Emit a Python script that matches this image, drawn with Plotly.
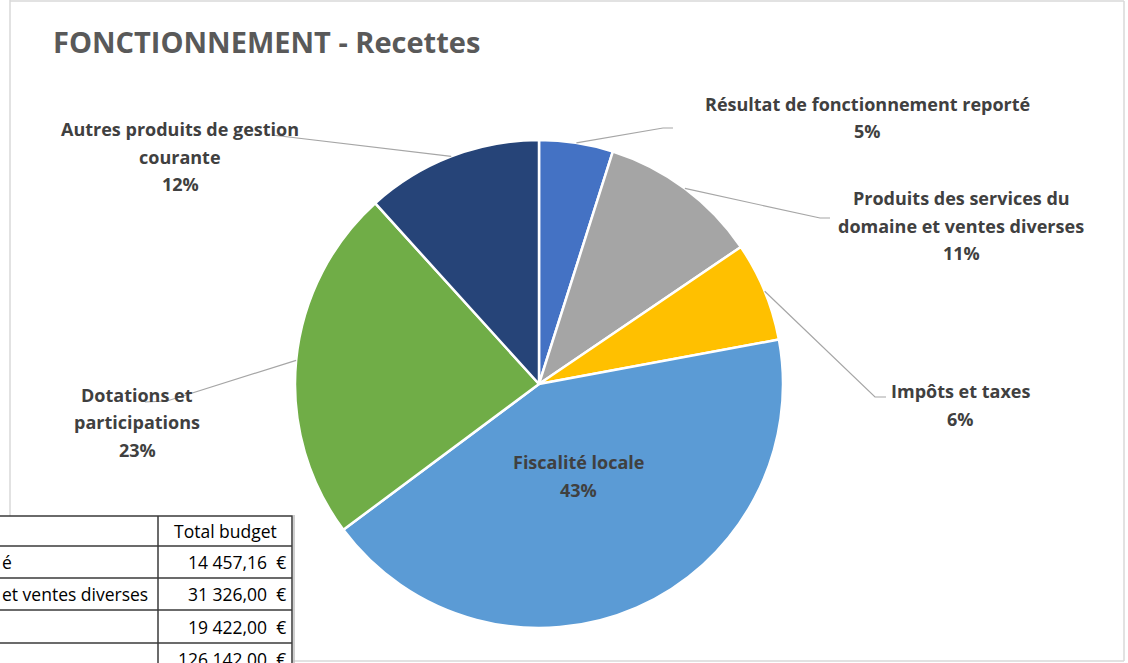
import math
import plotly.graph_objects as go

# ---- data ----
categories = [
    "Résultat de fonctionnement reporté",
    "Produits des services du domaine et ventes diverses",
    "Impôts et taxes",
    "Fiscalité locale",
    "Dotations et participations",
    "Autres produits de gestion courante",
]
values = [14457.16, 31326.00, 19422.00, 126142.00, 69300.00, 34600.00]
percent_labels = ["5%", "11%", "6%", "43%", "23%", "12%"]
label_lines = [
    ["Résultat de fonctionnement reporté"],
    ["Produits des services du", "domaine et ventes diverses"],
    ["Impôts et taxes"],
    ["Fiscalité locale"],
    ["Dotations et", "participations"],
    ["Autres produits de gestion", "courante"],
]
colors = ["#4472C4", "#A5A5A5", "#FFC000", "#5B9BD5", "#70AD47", "#264478"]

table_header = ["", "Total budget"]
table_first_col = ["é", "et ventes diverses", "", ""]
table_values = ["14 457,16  €", "31 326,00  €", "19 422,00  €", "126 142,00  €"]

title = "FONCTIONNEMENT - Recettes"

# ---- layout helpers (pixel -> paper) ----
W, H = 1128, 663
def px(x):
    return x / W
def py(y):
    return 1 - y / H

CX, CY, R = 539, 384, 244

fig = go.Figure()
fig.add_trace(go.Pie(
    labels=categories,
    values=values,
    sort=False,
    direction="clockwise",
    rotation=0,
    marker=dict(colors=colors, line=dict(color="white", width=2.5)),
    textinfo="none",
    hoverinfo="label+value+percent",
    showlegend=False,
    domain=dict(x=[px(CX - R), px(CX + R)], y=[py(CY + R), py(CY - R)]),
))

# label placement (center x, first-line y) and leader line label-side points
label_pos = [(868, 104), (961, 198), (960, 391), (578, 462), (137, 395), (180, 129)]
leader_pts = [
    [(663, 128), (673, 128)],
    [(820, 218), (830, 218)],
    [(875, 397), (886, 397)],
    None,
    [(167, 401), (145, 402)],
    [(272, 135)],
]
LINE_GAP = 27.5
label_font = dict(family="Open Sans", size=18, color="#404040")

shapes = []
annotations = []

total = sum(values)
cum = 0.0
for i, v in enumerate(values):
    mid = (cum + v / 2) / total * 2 * math.pi
    cum += v
    lines = label_lines[i] + [percent_labels[i]]
    lx, ly = label_pos[i]
    for k, t in enumerate(lines):
        annotations.append(dict(
            x=px(lx), y=py(ly + k * LINE_GAP), xref="paper", yref="paper",
            text="<b>%s</b>" % t, showarrow=False, xanchor="center", yanchor="middle",
            font=label_font,
        ))
    if leader_pts[i]:
        sx = CX + R * math.sin(mid)
        sy = CY - R * math.cos(mid)
        pts = [(sx, sy)] + leader_pts[i]
        path = "M " + " L ".join("%f,%f" % (px(a), py(b)) for a, b in pts)
        shapes.append(dict(type="path", path=path, xref="paper", yref="paper",
                           line=dict(color="#A6A6A6", width=1.2)))

# chart frame
frame_col = "#D9D9D9"
for (x0, y0, x1, y1) in [(10, 0, 10, 516), (10, 1, 1124, 1), (1124, 1, 1124, 661), (292, 661, 1124, 661)]:
    shapes.append(dict(type="line", xref="paper", yref="paper",
                       x0=px(x0), y0=py(y0), x1=px(x1), y1=py(y1),
                       line=dict(color=frame_col, width=1.5)))

# title
annotations.append(dict(
    x=px(51), y=py(41), xref="paper", yref="paper", text="<b>%s</b>" % title,
    showarrow=False, xanchor="left", yanchor="middle",
    font=dict(family="Open Sans", size=29, color="#595959"),
))

# table overlay (bottom-left, clipped)
TX0, TXM, TX1 = -2, 158, 292
ROW_Y = [516, 546, 578, 610, 643, 675]
tcol = "#3A3A3A"
shapes.append(dict(type="rect", xref="paper", yref="paper",
                   x0=px(TX0), x1=px(TX1), y0=py(ROW_Y[0]), y1=py(ROW_Y[-1]),
                   fillcolor="white", line=dict(color=tcol, width=1.5), layer="above"))
for yy in ROW_Y[1:-1]:
    shapes.append(dict(type="line", xref="paper", yref="paper",
                       x0=px(TX0), x1=px(TX1), y0=py(yy), y1=py(yy),
                       line=dict(color=tcol, width=1.5)))
shapes.append(dict(type="line", xref="paper", yref="paper",
                   x0=px(TXM), x1=px(TXM), y0=py(ROW_Y[0]), y1=py(ROW_Y[-1]),
                   line=dict(color=tcol, width=1.5)))
shapes.append(dict(type="line", xref="paper", yref="paper",
                   x0=px(TX1 + 2), x1=px(TX1 + 2), y0=py(ROW_Y[0] - 1), y1=py(ROW_Y[-1]),
                   line=dict(color="#BFBFBF", width=1.5)))

tfont = dict(family="Open Sans", size=17.5, color="#000000")
annotations.append(dict(x=px((TXM + TX1) / 2), y=py((ROW_Y[0] + ROW_Y[1]) / 2),
                        xref="paper", yref="paper", text=table_header[1], showarrow=False,
                        xanchor="center", yanchor="middle", font=tfont))
for r in range(len(table_values)):
    yc = (ROW_Y[r + 1] + ROW_Y[r + 2]) / 2
    if table_first_col[r]:
        annotations.append(dict(x=px(0), y=py(yc), xref="paper", yref="paper",
                                text=table_first_col[r], showarrow=False,
                                xanchor="left", yanchor="middle", font=tfont))
    annotations.append(dict(x=px(TX1 - 4), y=py(yc), xref="paper", yref="paper",
                            text=table_values[r].replace("  ", "&nbsp;&nbsp;"), showarrow=False,
                            xanchor="right", yanchor="middle", font=tfont))

fig.update_layout(
    width=W, height=H,
    margin=dict(l=0, r=0, t=0, b=0),
    paper_bgcolor="white", plot_bgcolor="white",
    shapes=shapes, annotations=annotations,
)

fig.write_html("out.html", config={"displayModeBar": False},
               post_script="document.body.style.margin='0';document.body.style.overflow='hidden';")
